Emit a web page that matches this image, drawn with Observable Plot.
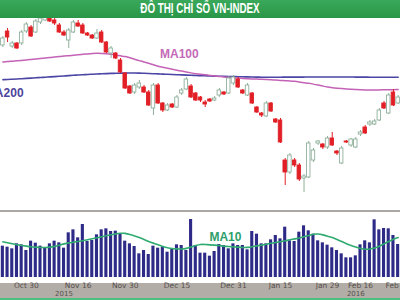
<!DOCTYPE html>
<html><head><meta charset="utf-8">
<script src="https://cdn.jsdelivr.net/npm/d3@7"></script>
<script src="https://cdn.jsdelivr.net/npm/@observablehq/plot@0.6"></script>
<style>
html,body{margin:0;padding:0;background:#fff;}
#wrap{position:relative;width:400px;height:300px;overflow:hidden;background:#fff;}
#wrap svg{position:absolute;left:0;top:0;}
#title{position:absolute;left:0;top:0;width:400px;height:18px;background:linear-gradient(#3aa85a,#2a9647);z-index:5;}
#title span{position:absolute;left:200px;top:0;line-height:18px;white-space:nowrap;color:#fff;font:bold 14px "Liberation Sans",Arial,sans-serif;transform:translateX(-50%) scaleX(0.7);transform-origin:center;}
#sep{position:absolute;left:0;top:210px;width:400px;height:2px;background:#aaa7a4;}
#band{position:absolute;left:0;top:283px;width:400px;height:15px;background:#b3ada7;}
#gline{position:absolute;left:0;top:298px;width:400px;height:2px;background:#4cbf80;}
</style></head><body>
<div id="wrap"><div id="sep"></div><div id="band"></div><div id="gline"></div><div id="title"><span>ĐỒ THỊ CHỈ SỐ VN-INDEX</span></div></div>
<script>
const dates = ["2015-10-23","2015-10-26","2015-10-27","2015-10-28","2015-10-29","2015-10-30",
"2015-11-02","2015-11-03","2015-11-04","2015-11-05","2015-11-06","2015-11-09","2015-11-10","2015-11-11","2015-11-12","2015-11-13",
"2015-11-16","2015-11-17","2015-11-18","2015-11-19","2015-11-20","2015-11-23","2015-11-24","2015-11-25","2015-11-26","2015-11-27","2015-11-30",
"2015-12-01","2015-12-02","2015-12-03","2015-12-04","2015-12-07","2015-12-08","2015-12-09","2015-12-10","2015-12-11","2015-12-14","2015-12-15",
"2015-12-16","2015-12-17","2015-12-18","2015-12-21","2015-12-22","2015-12-23","2015-12-24","2015-12-25","2015-12-28","2015-12-29","2015-12-30","2015-12-31",
"2016-01-04","2016-01-05","2016-01-06","2016-01-07","2016-01-08","2016-01-11","2016-01-12","2016-01-13","2016-01-14","2016-01-15",
"2016-01-18","2016-01-19","2016-01-20","2016-01-21","2016-01-22","2016-01-25","2016-01-26","2016-01-27","2016-01-28","2016-01-29",
"2016-02-01","2016-02-02","2016-02-03","2016-02-04","2016-02-05","2016-02-15","2016-02-16","2016-02-17","2016-02-18","2016-02-19",
"2016-02-22","2016-02-23","2016-02-24","2016-02-25","2016-02-26"];

const open = [597.5,604.5,597,598.5,598.5,604.5,606.5,604,609,610,
611.5,610,607.5,604,600,604,608.5,607.5,603.5,602.5,
601,604,599,593.5,593.5,590,583.5,577,574,576.5,
576.5,574,566,577.5,568.5,565,568,566.5,573.5,575.5,
577,573.5,571.5,569,570.5,570,572.5,574,573.5,578.5,
580.5,575,572.5,573.5,566.5,563.5,562,568.5,560.5,560,
540,534,540,537.5,531,531.5,540,548.5,548,546.5,
551,544.5,538.5,549.5,547.5,546.5,553,556.5,558,558,
560,568.5,563.5,574,568.5];
const high = [602,606,599.5,599,605,609,607.5,610.5,612,613,
612.5,611,608.5,605,606,610,610,608.5,604,603,
605.5,605,599.5,597,594,591,584,577.5,578.5,580,
577.5,575,578.5,578.5,569,568.5,568.5,572.5,576,581.5,
578,574,572,570,571,572,576,574.5,582,582.5,
581.5,575.5,578.5,574,567,564,569.5,569,561,561,
541,543.5,541,538.5,533,549.5,546,550,548.5,552,
554,545,547,550,551,551.5,555,557.5,560,560.5,
566,569.5,573.5,575.5,572.5];
const low = [596.5,599,596,595.5,597.5,603.5,601.5,603.5,608,609.5,
609,607.5,603.5,602,596,603.5,606.5,603,602,600.5,
600.5,598.5,593.5,591,590.5,583.5,575.5,573,573,575.5,
573.5,567,562.5,568,564,564.5,566,566,572.5,575,
571,569.5,569,566.5,569,569.5,571.5,572.5,573,577.5,
576,573,572,568,563.5,561.5,561.5,564,558.5,548.5,
527.5,533,536.5,529.5,524,531,539,547.5,545.5,545.5,
547,542.5,538,548.5,546.5,546,552,553,557,557.5,
559.5,565.5,563,567,568];
const close = [601,601.5,598.5,596,604,608,602,609.5,611,612,
609.5,608.5,604,602.5,605,609,607,603.5,602.5,601,
603.5,599,594,596,591,584,576,573.5,577.5,578.5,
574,567.5,577.5,568.5,565,567.5,566.5,571.5,575,580.5,
571.5,570,570,568,569.5,571,575,573,581,581.5,
576.5,573.5,577.5,568.5,564,562.5,568.5,564.5,559,549,
534,542.5,537.5,530.5,532,548.5,545,549.5,546.5,551,
547.5,543.5,546,549,550.5,550.5,554,553.5,559,559.5,
565,566,572.5,567.5,571.5];

const ma100 = [589.25,589.5,589.65,589.85,590.05,590.3,590.5,590.75,591,591.25,
591.5,591.7,591.95,592.2,592.4,592.65,592.9,593.1,593.3,593.5,
593.6,593.55,593.4,593.2,592.75,592.35,592,591.35,590.6,589.95,
589.25,588.65,587.9,587.1,586.6,586.1,585.6,585.15,584.7,584.25,
583.8,583.4,583.1,582.85,582.55,582.3,582.05,581.75,581.55,581.4,
581.2,581.05,580.9,580.8,580.7,580.65,580.5,580.35,580.2,580.05,
579.9,579.75,579.6,579.25,578.9,578.6,578.2,577.7,577.2,576.7,
576.4,576.15,575.95,575.75,575.6,575.45,575.35,575.3,575.3,575.3,
575.3,575.35,575.35,575.4,575.45];
const ma200 = [580.4,580.5,580.65,580.75,580.9,581.05,581.2,581.35,581.5,581.65,
581.8,581.95,582.1,582.25,582.45,582.6,582.75,582.9,583,583.15,
583.25,583.35,583.45,583.55,583.6,583.65,583.7,583.75,583.75,583.7,
583.6,583.5,583.4,583.3,583.2,583.1,583,582.9,582.8,582.7,
582.6,582.5,582.4,582.35,582.25,582.2,582.15,582.05,582,581.95,
581.9,581.85,581.8,581.75,581.7,581.65,581.65,581.65,581.65,581.65,
581.7,581.7,581.7,581.7,581.7,581.75,581.75,581.75,581.75,581.75,
581.75,581.75,581.75,581.75,581.75,581.7,581.7,581.7,581.65,581.65,
581.65,581.65,581.6,581.6,581.6];

const volume = [94,91,86,101,98,81,109,103,94,88,
101,109,104,88,134,143,119,159,108,111,
128,143,146,138,139,131,109,101,93,71,
81,69,94,88,91,76,86,98,96,81,
174,96,73,73,64,78,99,96,86,101,
96,96,83,138,130,101,101,113,126,116,
151,110,108,136,155,140,130,110,104,97,
89,81,71,59,59,65,98,110,104,173,
143,147,146,126,99];
const ma10 = [107,104,101,98,96,94,92,91,90,90,
91,93,97,101,104,106,108,110,113,116,
119,122,125,128,131,133,133,129,125,120,
114,108,103,98,93,89,87,86,85,87,
91,96,100,99,98,97,96,94,93,92,
91,90,90,92,95,97,100,103,105,107,
110,113,116,118,122,126,130,131,128,124,
120,114,108,101,96,91,87,84,85,88,
93,101,108,115,120];

const tickIdx = [5,16,26,37,49,59,69,76,84];
const tickLabels = ["Oct 30","Nov 16","Nov 30","Dec 15","Dec 31","Jan 15","Jan 29","Feb 16","Feb 26"];
const yearIdx = [13,75];
const yearLabels = ["2015","2016"];

const n = dates.length;
const idx = d3.range(n);
const candles = idx.map(i => ({i, o: open[i], h: high[i], l: low[i], c: close[i], up: close[i] >= open[i]}));
const maRows = idx.map(i => ({i, m100: ma100[i], m200: ma200[i]}));
const volRows = idx.map(i => ({i, v: volume[i], m: ma10[i]}));
const ticks = tickIdx.map((i, k) => ({i, label: tickLabels[k]}));
const years = yearIdx.map((i, k) => ({i, label: yearLabels[k]}));

const RED = "#e21f26", UPS = "#8fb09a";
const xs = {type: "linear", domain: [-0.5, n - 0.5], range: [0, 400], axis: null};

const price = Plot.plot({
  width: 400, height: 210, margin: 0,
  x: xs,
  y: {domain: [515, 620], range: [210, 0], axis: null},
  style: {background: "transparent", overflow: "visible"},
  marks: [
    Plot.lineY(maRows, {x: "i", y: "m200", stroke: "#4b45a5", strokeWidth: 1.6, curve: "basis"}),
    Plot.lineY(maRows, {x: "i", y: "m100", stroke: "#c462b6", strokeWidth: 1.5, curve: "basis"}),
    Plot.ruleX(candles, {x: "i", y1: "l", y2: "h", stroke: d => d.up ? UPS : RED, strokeWidth: 1}),
    Plot.rect(candles, {x1: d => d.i - 0.37, x2: d => d.i + 0.37, y1: "o", y2: "c",
      fill: d => d.up ? "#ffffff" : RED, stroke: d => d.up ? UPS : RED, strokeWidth: 0.9}),
    Plot.text(["MA100"], {x: 37.5, y: 593, text: d => d, fill: "#c46ab8", fontSize: 12, fontWeight: "bold", fontFamily: "Liberation Sans, Arial, sans-serif"}),
    Plot.text(["MA200"], {x: 4.4, y: 573.5, text: d => d, textAnchor: "end", fill: "#4d449c", fontSize: 12, fontWeight: "bold", fontFamily: "Liberation Sans, Arial, sans-serif"})
  ]
});

const vol = Plot.plot({
  width: 400, height: 300, marginTop: 0, marginLeft: 0, marginRight: 0, marginBottom: 17,
  x: xs,
  y: {domain: [0, 195], range: [277, 212], axis: null},
  style: {background: "transparent", overflow: "visible"},
  marks: [
    Plot.rectY(volRows, {x1: d => d.i - 0.33, x2: d => d.i + 0.33, y: "v", fill: "#2e2a88"}),
    Plot.lineY(volRows, {x: "i", y: "m", stroke: "#2faa70", strokeWidth: 1.6, curve: "basis"}),
    Plot.text(["MA10"], {x: 47.3, y: 121, text: d => d, fill: "#2e9e6a", fontSize: 12, fontWeight: "bold", fontFamily: "Liberation Sans, Arial, sans-serif"}),
    Plot.text(ticks, {x: "i", text: "label", frameAnchor: "bottom", dy: 4.5, fill: "#55504c", fontSize: 7.5, fontFamily: "DejaVu Sans, sans-serif"}),
    Plot.text(years, {x: "i", text: "label", frameAnchor: "bottom", dy: 12, fill: "#55504c", fontSize: 7, fontFamily: "DejaVu Sans, sans-serif"})
  ]
});

const wrap = document.getElementById("wrap");
wrap.insertBefore(vol, document.getElementById("title"));
wrap.insertBefore(price, document.getElementById("title"));
</script>
</body></html>
